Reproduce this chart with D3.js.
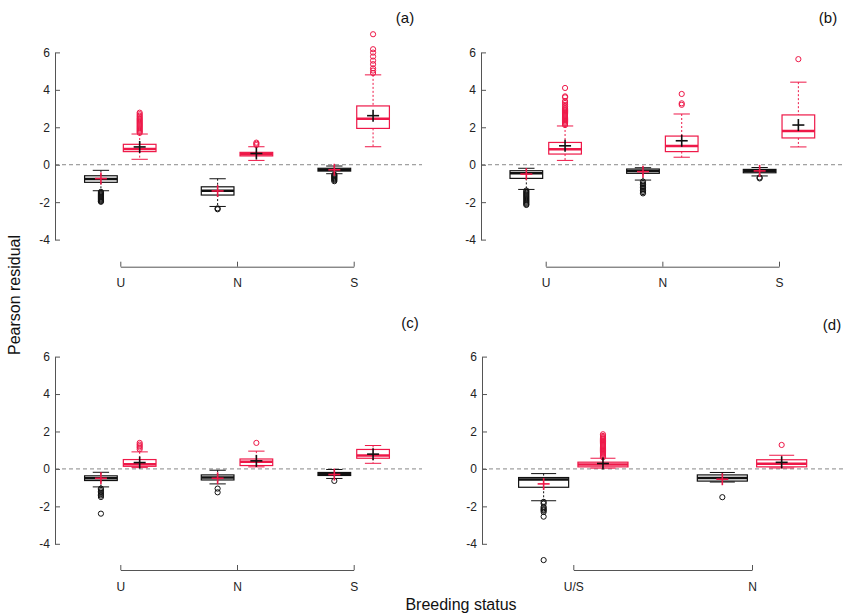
<!DOCTYPE html>
<html>
<head>
<meta charset="utf-8">
<script src="https://cdn.jsdelivr.net/npm/d3@7"></script>
<style>
  html, body { margin: 0; padding: 0; background: #fff; }
  svg { display: block; font-family: Arial, "Liberation Sans", Helvetica, sans-serif; }
</style>
</head>
<body>
<svg id="chart" width="845" height="613"></svg>
<script>
// ---------------- DATA ----------------
// Box stats per category: [whiskerLow, Q1, median, Q3, whiskerHigh, mean]
const yTicks = [-4, -2, 0, 2, 4, 6];
const panelLabels = ["(a)", "(b)", "(c)", "(d)"];

const categoriesA = ["U", "N", "S"];
const blackA = [
  [-1.39, -0.94, -0.76, -0.59, -0.30, -0.74],
  [-2.23, -1.62, -1.39, -1.18, -0.75, -1.40],
  [-0.48, -0.34, -0.27, -0.19, -0.07, -0.27]
];
const redA = [
  [0.29, 0.70, 0.84, 1.09, 1.64, 0.95],
  [0.23, 0.47, 0.56, 0.66, 0.96, 0.60],
  [0.96, 1.94, 2.46, 3.14, 4.80, 2.62]
];
const blackOutA = [
  [-1.45, -1.5, -1.55, -1.6, -1.65, -1.7, -1.75, -1.8, -1.85, -1.9, -1.95, -1.98],
  [-2.33, -2.38],
  [-0.53, -0.57, -0.62, -0.67, -0.72, -0.77, -0.82, -0.88]
];
const redOutA = [
  [1.7, 1.76, 1.82, 1.88, 1.94, 2.0, 2.06, 2.12, 2.18, 2.24, 2.3, 2.36, 2.42, 2.48, 2.55, 2.62, 2.7, 2.78],
  [1.05, 1.12, 1.18],
  [4.9, 5.03, 5.15, 5.37, 5.56, 5.78, 5.99, 6.17, 6.97]
];

const categoriesB = ["U", "N", "S"];
const blackB = [
  [-1.32, -0.73, -0.46, -0.32, -0.19, -0.50],
  [-0.82, -0.46, -0.33, -0.23, -0.16, -0.37],
  [-0.60, -0.43, -0.33, -0.25, -0.15, -0.33]
];
const redB = [
  [0.23, 0.57, 0.82, 1.19, 2.07, 1.01],
  [0.40, 0.70, 1.00, 1.53, 2.71, 1.28],
  [0.95, 1.43, 1.80, 2.66, 4.41, 2.12]
];
const blackOutB = [
  [-1.38, -1.44, -1.5, -1.56, -1.62, -1.68, -1.74, -1.8, -1.86, -1.92, -1.98, -2.04, -2.1, -2.15],
  [-0.9, -0.98, -1.06, -1.14, -1.22, -1.3, -1.38, -1.46, -1.53],
  [-0.68, -0.73]
];
const redOutB = [
  [2.12, 2.18, 2.24, 2.3, 2.36, 2.42, 2.48, 2.54, 2.6, 2.66, 2.72, 2.78, 2.84, 2.9, 2.96, 3.02, 3.1, 3.2, 3.3, 3.4, 3.6, 3.65, 4.1],
  [3.2, 3.28, 3.78],
  [5.64]
];

const categoriesC = ["U", "N", "S"];
const blackC = [
  [-0.96, -0.62, -0.50, -0.37, -0.18, -0.50],
  [-0.80, -0.59, -0.46, -0.32, -0.07, -0.50],
  [-0.51, -0.35, -0.27, -0.19, -0.03, -0.30]
];
const redC = [
  [0.07, 0.14, 0.25, 0.50, 0.91, 0.34],
  [0.11, 0.18, 0.38, 0.53, 0.95, 0.43],
  [0.30, 0.57, 0.72, 1.04, 1.25, 0.79]
];
const blackOutC = [
  [-1.05, -1.12, -1.2, -1.28, -1.35, -1.42, -1.5, -2.39],
  [-1.05, -1.25],
  [-0.64]
];
const redOutC = [
  [1.05, 1.14, 1.22, 1.3, 1.39],
  [1.39],
  []
];

const categoriesD = ["U/S", "N"];
const blackD = [
  [-1.70, -0.98, -0.56, -0.46, -0.25, -0.80],
  [-0.70, -0.65, -0.48, -0.32, -0.19, -0.55]
];
const redD = [
  [0.04, 0.11, 0.24, 0.36, 0.57, 0.29],
  [0.05, 0.11, 0.28, 0.49, 0.73, 0.35]
];
const blackOutD = [
  [-1.76, -1.85, -2.03, -2.1, -2.17, -2.22, -2.3, -2.55, -4.87],
  [-1.51]
];
const redOutD = [
  [0.62, 0.68, 0.74, 0.8, 0.86, 0.92, 0.98, 1.04, 1.1, 1.16, 1.22, 1.28, 1.34, 1.4, 1.46, 1.52, 1.58, 1.64, 1.7, 1.76, 1.85],
  [1.28]
];

// ---------------- DRAWING ----------------
const svg = d3.select("#chart");
const RED = "#ee1848";
const BLACK = "#111";
const AXIS = "#555";

const panels = [
  { label: panelLabels[0], cats: categoriesA, black: blackA, red: redA, bOut: blackOutA, rOut: redOutA,
    ax: 55, yTop: 52.4, yBot: 239.6, xr: [120.3, 353.7], by: 266.7, zEnd: 422, lx: 405, ly: 18 },
  { label: panelLabels[1], cats: categoriesB, black: blackB, red: redB, bOut: blackOutB, rOut: redOutB,
    ax: 481, yTop: 52.4, yBot: 239.6, xr: [545.7, 779], by: 266.7, zEnd: 843, lx: 828, ly: 18 },
  { label: panelLabels[2], cats: categoriesC, black: blackC, red: redC, bOut: blackOutC, rOut: redOutC,
    ax: 55, yTop: 356.6, yBot: 543.8, xr: [120.3, 353.7], by: 570, zEnd: 422, lx: 410, ly: 323 },
  { label: panelLabels[3], cats: categoriesD, black: blackD, red: redD, bOut: blackOutD, rOut: redOutD,
    ax: 482, yTop: 356.6, yBot: 543.8, xr: [573.3, 752], by: 570, zEnd: 843, lx: 832, ly: 325 }
];

panels.forEach(p => {
  const g = svg.append("g");
  const y = d3.scaleLinear().domain([-4, 6]).range([p.yBot, p.yTop]);
  const x = d3.scalePoint().domain(p.cats).range(p.xr);
  const step = (p.xr[1] - p.xr[0]) / (p.cats.length - 1);
  const off = 0.166 * step;
  const bw = 0.28 * step;
  const capW = bw * 0.5;

  // zero reference line
  g.append("line")
    .attr("x1", p.ax).attr("x2", p.zEnd)
    .attr("y1", y(0)).attr("y2", y(0))
    .attr("stroke", "#888").attr("stroke-width", 1)
    .attr("stroke-dasharray", "4,3");

  // y axis
  const yAxis = d3.axisLeft(y).tickValues(yTicks).tickFormat(d => String(d))
    .tickSizeInner(-5).tickSizeOuter(0).tickPadding(5);
  const ya = g.append("g").attr("transform", `translate(${p.ax},0)`).call(yAxis);
  ya.select(".domain").attr("stroke", AXIS);
  ya.selectAll(".tick line").attr("stroke", AXIS);
  ya.selectAll(".tick text").attr("fill", "#222").attr("font-size", 12)
    .attr("font-family", "Arial, 'Liberation Sans', sans-serif");

  // x bracket axis
  const xAxis = d3.axisBottom(x).tickSizeInner(-5).tickSizeOuter(0).tickPadding(12);
  const xa = g.append("g").attr("transform", `translate(0,${p.by})`).call(xAxis);
  xa.select(".domain").attr("stroke", AXIS);
  xa.selectAll(".tick line").attr("stroke", AXIS);
  xa.selectAll(".tick text").attr("fill", "#222").attr("font-size", 12)
    .attr("font-family", "Arial, 'Liberation Sans', sans-serif");

  // boxes
  const series = [
    { stats: p.black, outs: p.bOut, col: BLACK, meanCol: RED, dx: -off },
    { stats: p.red, outs: p.rOut, col: RED, meanCol: BLACK, dx: off }
  ];
  series.forEach(s => {
    p.cats.forEach((c, i) => {
      const [lo, q1, med, q3, hi, mean] = s.stats[i];
      const cx = x(c) + s.dx;
      const bg = g.append("g");
      // whiskers (dotted)
      bg.append("line").attr("x1", cx).attr("x2", cx).attr("y1", y(hi)).attr("y2", y(q3))
        .attr("stroke", s.col).attr("stroke-width", 1).attr("stroke-dasharray", "2,2");
      bg.append("line").attr("x1", cx).attr("x2", cx).attr("y1", y(q1)).attr("y2", y(lo))
        .attr("stroke", s.col).attr("stroke-width", 1).attr("stroke-dasharray", "2,2");
      // caps
      [lo, hi].forEach(v => {
        bg.append("line").attr("x1", cx - capW / 2).attr("x2", cx + capW / 2)
          .attr("y1", y(v)).attr("y2", y(v)).attr("stroke", s.col).attr("stroke-width", 1);
      });
      // outliers
      bg.selectAll("circle.o").data(s.outs[i]).enter().append("circle")
        .attr("cx", cx).attr("cy", d => y(d)).attr("r", 2.6)
        .attr("fill", "none").attr("stroke", s.col).attr("stroke-width", 1);
      // box
      bg.append("rect").attr("x", cx - bw / 2).attr("width", bw)
        .attr("y", y(q3)).attr("height", Math.max(0.5, y(q1) - y(q3)))
        .attr("fill", "none").attr("stroke", s.col).attr("stroke-width", 1.2);
      // median
      bg.append("line").attr("x1", cx - bw / 2).attr("x2", cx + bw / 2)
        .attr("y1", y(med)).attr("y2", y(med)).attr("stroke", s.col).attr("stroke-width", 2.5);
      // mean marker (+)
      const ms = 6;
      bg.append("line").attr("x1", cx - ms).attr("x2", cx + ms).attr("y1", y(mean)).attr("y2", y(mean))
        .attr("stroke", s.meanCol).attr("stroke-width", 1.6);
      bg.append("line").attr("x1", cx).attr("x2", cx).attr("y1", y(mean) - ms).attr("y2", y(mean) + ms)
        .attr("stroke", s.meanCol).attr("stroke-width", 1.6);
    });
  });

  // panel label
  g.append("text").attr("x", p.lx).attr("y", p.ly).attr("dy", "0.35em")
    .attr("text-anchor", "middle").attr("font-size", 15).attr("fill", "#111")
    .text(p.label);
});

// global axis titles
svg.append("text")
  .attr("transform", "translate(20,295) rotate(-90)")
  .attr("text-anchor", "middle").attr("font-size", 16).attr("fill", "#111")
  .text("Pearson residual");
svg.append("text")
  .attr("x", 461).attr("y", 604).attr("dy", "0.35em")
  .attr("text-anchor", "middle").attr("font-size", 16).attr("fill", "#111")
  .text("Breeding status");
</script>
</body>
</html>
